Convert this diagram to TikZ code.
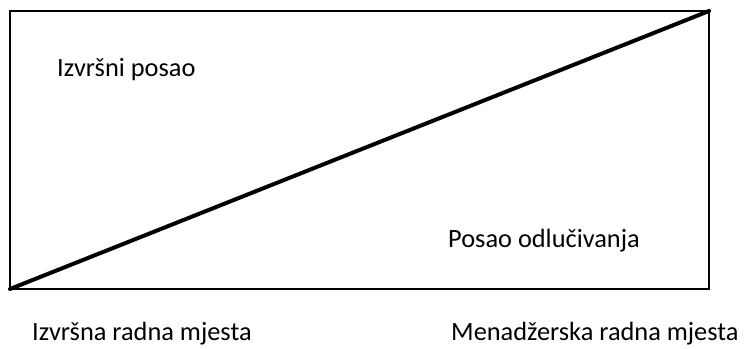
\documentclass[tikz,border=0pt]{standalone}
\usepackage{fontspec}
\setmainfont{Carlito}
\begin{document}
\begin{tikzpicture}[x=0.03cm,y=-0.03cm,font=\fontsize{22.5}{26}\selectfont,
  label/.style={anchor=base west,inner sep=0pt}]
  \useasboundingbox (0,0) rectangle (754,349);

  % Frame and diagonal
  \coordinate (bl) at (10,289);
  \coordinate (tr) at (709,11);
  \draw[line width=1.7pt] (bl) rectangle (tr);
  \draw[line width=3.4pt,line cap=round] (bl) -- (tr);

  % Labels inside
  \node[label] (izvrsni) at (57,77) {Izvršni posao};
  \node[label] (odluc) at (448,248) {Posao odlučivanja};

  % Labels below
  \node[label] (izvmj) at (32,341) {Izvršna radna mjesta};
  \node[label] (menmj) at (451,341) {Menadžerska radna mjesta};
\end{tikzpicture}
\end{document}
